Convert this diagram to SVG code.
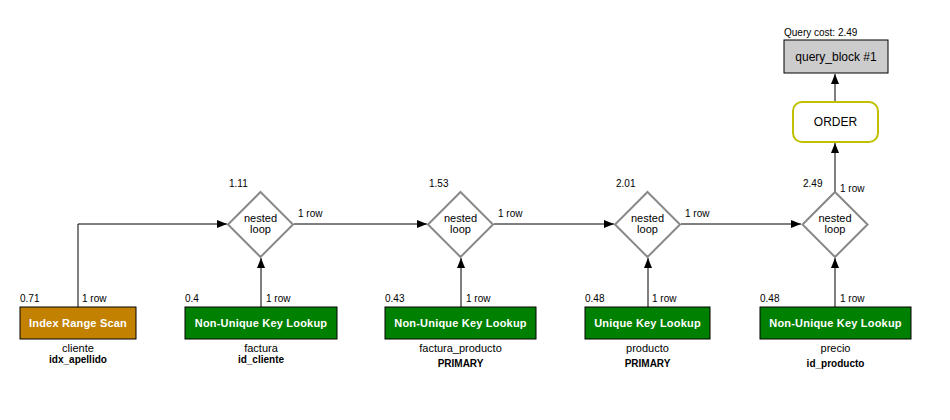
<svg xmlns="http://www.w3.org/2000/svg" width="950" height="420" viewBox="0 0 950 420">
<style>
text{font-family:"Liberation Sans",Arial,sans-serif;fill:#000}
.s{font-size:10px}
.t{font-size:11px}
.b{font-size:10px;font-weight:bold}
.bl{font-size:11px;font-weight:bold;fill:#fff;letter-spacing:0.2px}
.m{font-size:12px}
.d{fill:#fff;stroke:#888;stroke-width:2}
.g{fill:#008000;stroke:#000;stroke-width:1}
.o{fill:#c28100;stroke:#000;stroke-width:1}
.c{fill:none;stroke:#000;stroke-width:1}
</style>
<defs>
<marker id="a" markerWidth="10" markerHeight="8" refX="10" refY="4" orient="auto" markerUnits="userSpaceOnUse">
<path d="M0,0 L10,4 L0,8 Z" fill="#000"/>
</marker>
</defs>
<rect width="950" height="420" fill="#fff"/>
<g id="connectors">
<path class="c" d="M78,307 V224 H227" marker-end="url(#a)"/>
<path class="c" d="M261,307 V258" marker-end="url(#a)"/>
<path class="c" d="M294,224 H427" marker-end="url(#a)"/>
<path class="c" d="M461,307 V258" marker-end="url(#a)"/>
<path class="c" d="M494,224 H614" marker-end="url(#a)"/>
<path class="c" d="M648,307 V258" marker-end="url(#a)"/>
<path class="c" d="M681,224 H801" marker-end="url(#a)"/>
<path class="c" d="M835,307 V258" marker-end="url(#a)"/>
<path class="c" d="M835,192 V143" marker-end="url(#a)"/>
<path class="c" d="M835,102 V74" marker-end="url(#a)"/>
<text class="s" x="82" y="302">1 row</text>
<text class="s" x="266" y="302">1 row</text>
<text class="s" x="466" y="302">1 row</text>
<text class="s" x="652" y="302">1 row</text>
<text class="s" x="840" y="302">1 row</text>
<text class="s" x="298" y="217">1 row</text>
<text class="s" x="498" y="217">1 row</text>
<text class="s" x="685" y="217">1 row</text>
<text class="s" x="840" y="192">1 row</text>
</g>
<g id="query_block">
<text class="s" x="784" y="36">Query cost: 2.49</text>
<rect x="784" y="40" width="104" height="33" fill="#ccc" stroke="#000"/>
<text class="m" x="836" y="61" text-anchor="middle">query_block #1</text>
</g>
<g id="order">
<rect x="793" y="102" width="85" height="40" rx="9" fill="#fff" stroke="#c0c000" stroke-width="2"/>
<text class="m" x="835.5" y="126" text-anchor="middle">ORDER</text>
</g>
<g id="nl1">
<text class="s" x="229" y="187">1.11</text>
<path class="d" d="M260.5,192 L293,224.5 L260.5,257 L228,224.5 Z"/>
<text class="t" x="260.5" y="222" text-anchor="middle">nested</text>
<text class="t" x="260.5" y="233" text-anchor="middle">loop</text>
</g>
<g id="nl2">
<text class="s" x="429" y="187">1.53</text>
<path class="d" d="M460.5,192 L493,224.5 L460.5,257 L428,224.5 Z"/>
<text class="t" x="460.5" y="222" text-anchor="middle">nested</text>
<text class="t" x="460.5" y="233" text-anchor="middle">loop</text>
</g>
<g id="nl3">
<text class="s" x="616" y="187">2.01</text>
<path class="d" d="M647.5,192 L680,224.5 L647.5,257 L615,224.5 Z"/>
<text class="t" x="647.5" y="222" text-anchor="middle">nested</text>
<text class="t" x="647.5" y="233" text-anchor="middle">loop</text>
</g>
<g id="nl4">
<text class="s" x="803" y="187">2.49</text>
<path class="d" d="M835,192 L867.5,224.5 L835,257 L802.5,224.5 Z"/>
<text class="t" x="835" y="222" text-anchor="middle">nested</text>
<text class="t" x="835" y="233" text-anchor="middle">loop</text>
</g>
<g id="cliente">
<text class="s" x="20" y="302">0.71</text>
<rect class="o" x="20" y="307" width="116" height="32"/>
<text class="bl" x="78" y="327" text-anchor="middle">Index Range Scan</text>
<text class="t" x="78" y="352" text-anchor="middle">cliente</text>
<text class="b" x="78" y="363" text-anchor="middle">idx_apellido</text>
</g>
<g id="factura">
<text class="s" x="185" y="302">0.4</text>
<rect class="g" x="185" y="307" width="152" height="32"/>
<text class="bl" x="261" y="327" text-anchor="middle">Non-Unique Key Lookup</text>
<text class="t" x="261" y="352" text-anchor="middle">factura</text>
<text class="b" x="261" y="363" text-anchor="middle">id_cliente</text>
</g>
<g id="factura_producto">
<text class="s" x="385" y="302">0.43</text>
<rect class="g" x="385" y="307" width="151" height="32"/>
<text class="bl" x="460.5" y="327" text-anchor="middle">Non-Unique Key Lookup</text>
<text class="t" x="460.5" y="352" text-anchor="middle">factura_producto</text>
<text class="b" x="460.5" y="367" text-anchor="middle">PRIMARY</text>
</g>
<g id="producto">
<text class="s" x="585" y="302">0.48</text>
<rect class="g" x="585" y="307" width="125" height="32"/>
<text class="bl" x="647.5" y="327" text-anchor="middle">Unique Key Lookup</text>
<text class="t" x="647.5" y="352" text-anchor="middle">producto</text>
<text class="b" x="647.5" y="367" text-anchor="middle">PRIMARY</text>
</g>
<g id="precio">
<text class="s" x="760" y="302">0.48</text>
<rect class="g" x="760" y="307" width="151" height="32"/>
<text class="bl" x="835.5" y="327" text-anchor="middle">Non-Unique Key Lookup</text>
<text class="t" x="835.5" y="352" text-anchor="middle">precio</text>
<text class="b" x="835.5" y="367" text-anchor="middle">id_producto</text>
</g>
</svg>
